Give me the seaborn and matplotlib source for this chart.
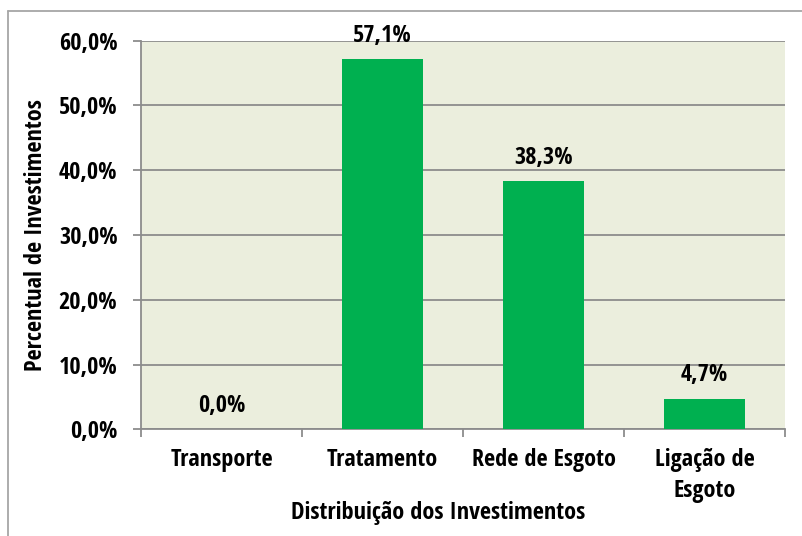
import matplotlib
matplotlib.use("Agg")
import matplotlib.pyplot as plt
import seaborn as sns
import pandas as pd
from matplotlib.ticker import FixedLocator, FuncFormatter
from matplotlib.lines import Line2D
from matplotlib import font_manager as fm

categories = ["Transporte", "Tratamento", "Rede de Esgoto", "Ligação de\nEsgoto"]
values = [0.0, 57.1, 38.3, 4.7]
value_labels = ["0,0%", "57,1%", "38,3%", "4,7%"]
y_ticks = [0, 10, 20, 30, 40, 50, 60]
x_title = "Distribuição dos Investimentos"
y_title = "Percentual de Investimentos"

sns.set_style("white")

entries = fm.fontManager.ttflist
names = {f.name for f in entries}
family, stretch = "DejaVu Sans", "normal"
for cand in ["Liberation Sans Narrow", "Open Sans Condensed", "Roboto Condensed"]:
    if cand in names:
        family, stretch = cand, "normal"
        break
else:
    for cand in ["DejaVu Sans", "Open Sans", "Roboto", "Noto Sans"]:
        if any(f.name == cand and f.stretch in ("condensed", "semi-condensed", 300)
               for f in entries):
            family, stretch = cand, "condensed"
            break
plt.rcParams["font.family"] = [family, "DejaVu Sans"]
plt.rcParams["font.stretch"] = stretch
plt.rcParams["font.weight"] = "bold"
plt.rcParams["text.color"] = "black"
plt.rcParams["axes.labelcolor"] = "black"
plt.rcParams["xtick.color"] = "black"
plt.rcParams["ytick.color"] = "black"

FS = 17.5
GRID = "#8c8c8c"
BAR = "#00b050"
BG = "#ebeedd"

fig = plt.figure(figsize=(8.02, 5.36), dpi=100)
ax = fig.add_axes([141/802, 1-429.3/536, 644/802, (429.3-40.7)/536])

df = pd.DataFrame({"cat": categories, "val": values})
sns.barplot(data=df, x="cat", y="val", color=BAR, width=0.5, saturation=1, ax=ax,
            zorder=3, linewidth=0, edgecolor="none")

ax.set_facecolor(BG)
ax.set_xlim(-0.5, 3.5)
ax.set_ylim(0, 60)

ax.yaxis.set_major_locator(FixedLocator(y_ticks))
ax.yaxis.set_major_formatter(FuncFormatter(lambda v, p: f"{v:.1f}%".replace(".", ",")))
ax.grid(axis="y", color=GRID, linewidth=1.3, zorder=1)
ax.set_axisbelow(True)
ax.tick_params(axis="y", which="major", length=6, width=1.3, color=GRID, pad=11,
               labelsize=FS, left=True, labelcolor="black")

ax.xaxis.set_major_locator(FixedLocator([-0.5, 0.5, 1.5, 2.5, 3.5]))
ax.xaxis.set_minor_locator(FixedLocator([0, 1, 2, 3]))
ax.set_xticklabels([""] * 5)
ax.set_xticklabels(categories, minor=True)
ax.tick_params(axis="x", which="major", length=6, width=1.3, color=GRID, bottom=True)
ax.tick_params(axis="x", which="minor", length=0, labelsize=FS, pad=13.5, labelcolor="black")
for t in ax.get_xticklabels(minor=True):
    t.set_linespacing(1.4)
    t.set_fontweight("bold")
for t in ax.get_yticklabels():
    t.set_fontweight("bold")

for s in ["top", "right"]:
    ax.spines[s].set_visible(False)
for s in ["left", "bottom"]:
    ax.spines[s].set_color(GRID)
    ax.spines[s].set_linewidth(1.3)

ax.set_xlabel(x_title, fontsize=FS, fontweight="bold")
ax.set_ylabel(y_title, fontsize=FS, fontweight="bold")
ax.xaxis.set_label_coords((438-141)/644, -(513-429.3)/388.6)
ax.yaxis.set_label_coords(-(141-36)/644, 0.5)
ax.xaxis.label.set_va("center")
ax.yaxis.label.set_va("center")

for i, (v, lab) in enumerate(zip(values, value_labels)):
    ax.annotate(lab, xy=(i, v), xytext=(0, 12.5), textcoords="offset points",
                ha="center", va="baseline", fontsize=FS, fontweight="bold",
                annotation_clip=False)

fig.add_artist(Line2D([8/802, 1], [1-11/536, 1-11/536], color="#a6a6a6", linewidth=1.3,
                      transform=fig.transFigure))
fig.add_artist(Line2D([8/802, 8/802], [0, 1-11/536], color="#a6a6a6", linewidth=1.3,
                      transform=fig.transFigure))

fig.savefig("out.png", dpi=100, facecolor="white")
